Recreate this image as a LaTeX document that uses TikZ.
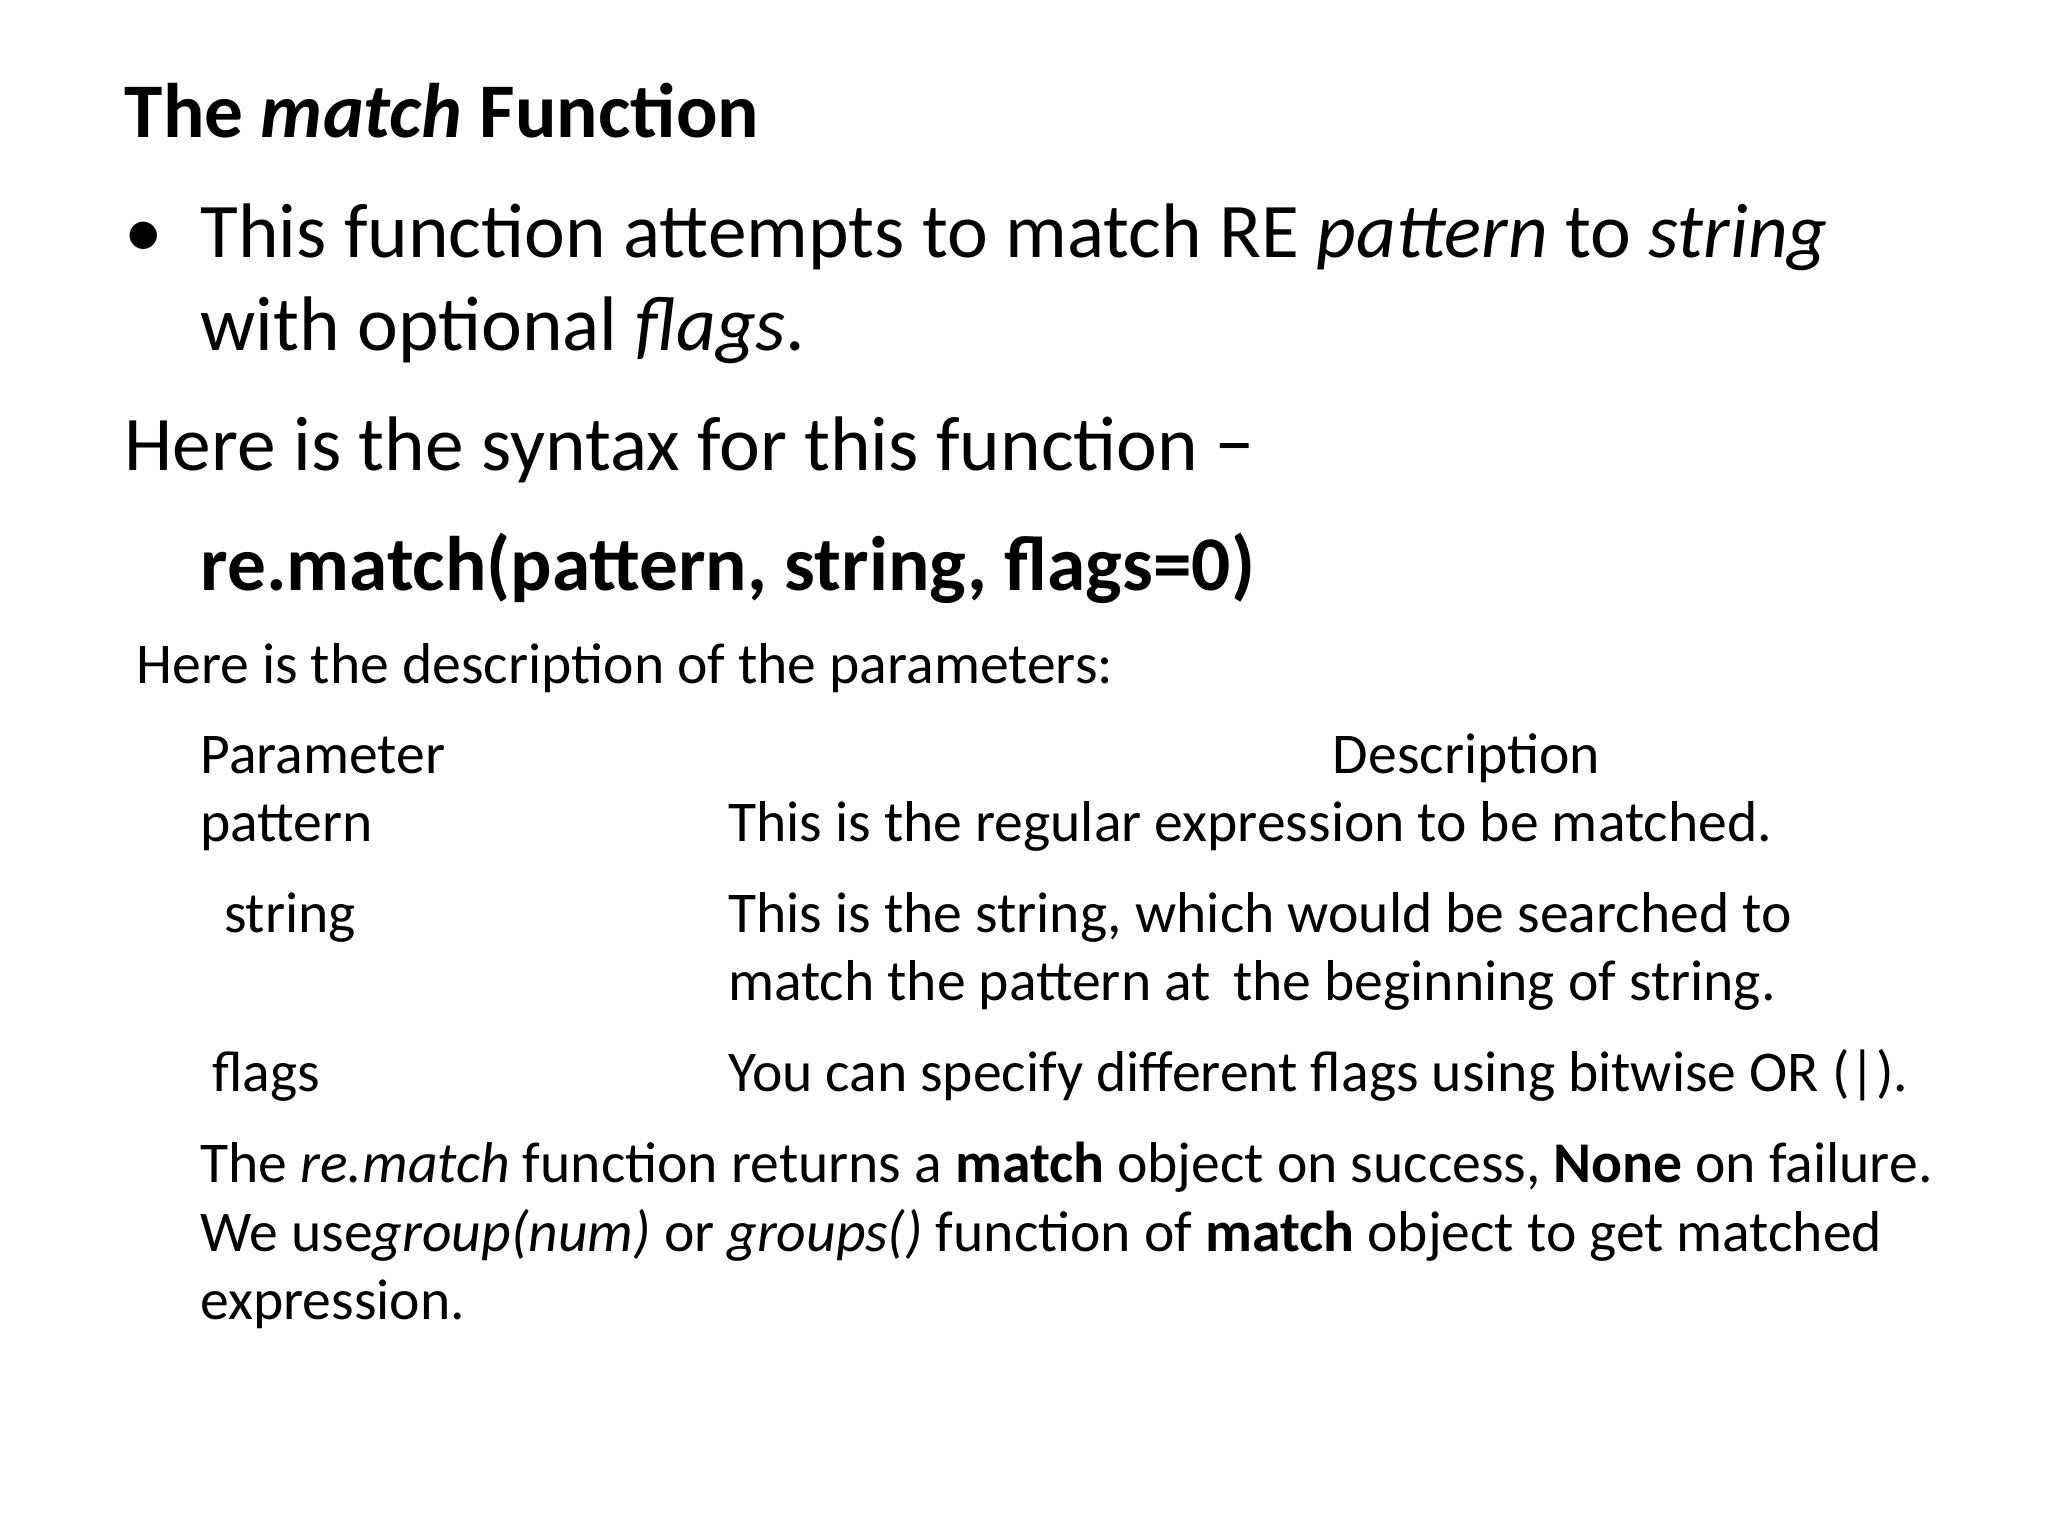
\documentclass[tikz,border=0pt]{standalone}
\usepackage{fontspec}
\setmainfont{Carlito}
\tikzset{
  big/.style={anchor=base west,inner sep=0pt,font=\fontsize{22}{26}\selectfont},
  small/.style={anchor=base west,inner sep=0pt,font=\fontsize{16.4}{20}\selectfont}
}
\begin{document}
\begin{tikzpicture}[x=0.013061cm,y=-0.013061cm]
  \useasboundingbox (0,0) rectangle (1568,1176);
  % heading and syntax
  \node[big] (title) at (95,105) {\bfseries The \textit{match} Function};
  \node[big] (dot) at (95,197) {•};
  \node[big] (intro1) at (153,197) {This function attempts to match RE \textit{pattern} to \textit{string}};
  \node[big] (intro2) at (153,268) {with optional \textit{flags}.};
  \node[big] (syntax) at (95,360) {Here is the syntax for this function −};
  \node[big] (call) at (153,452) {\bfseries re.match(pattern, string, flags=0)};
  % parameter table
  \node[small] (desc) at (104,523) {Here is the description of the parameters:};
  \node[small] (hparam) at (153,592) {Parameter};
  \node[small] (hdesc) at (1020,592) {Description};
  \node[small] (ppat) at (153,644) {pattern};
  \node[small] (dpat) at (557,644) {This is the regular expression to be matched.};
  \node[small] (pstr) at (171,714) {string};
  \node[small] (dstr1) at (557,714) {This is the string, which would be searched to};
  \node[small] (dstr2) at (557,766) {match the pattern at\, the beginning of string.};
  \node[small] (pflag) at (162,836) {flags};
  \node[small] (dflag) at (557,836) {You can specify different flags using bitwise OR (|).};
  % closing remark
  \node[small] (note1) at (153,905) {The \textit{re.match} function returns a \textbf{match} object on success, \textbf{None} on failure.};
  \node[small] (note2) at (153,958) {We use\textit{group(num)} or \textit{groups()} function of \textbf{match} object to get matched};
  \node[small] (note3) at (153,1010) {expression.};
\end{tikzpicture}
\end{document}
